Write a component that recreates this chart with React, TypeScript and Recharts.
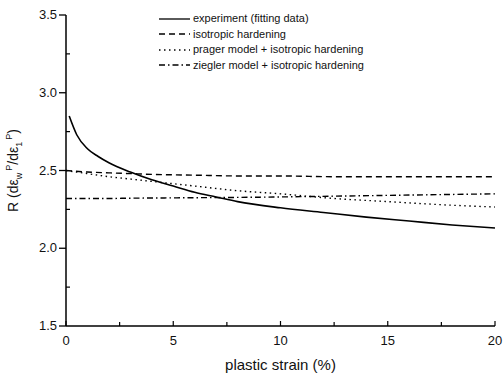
import React from 'react';
import { LineChart, Line, XAxis, YAxis } from 'recharts';

// plastic strain (%)
const expStrain = [0.15, 0.5, 1, 1.5, 2, 3, 4, 5, 6, 7, 8, 10, 12, 14, 16, 18, 20];
const expR = [2.85, 2.73, 2.64, 2.59, 2.55, 2.49, 2.44, 2.40, 2.36, 2.33, 2.30, 2.26, 2.23, 2.20, 2.175, 2.15, 2.13];

const modelStrain = [0, 1, 2, 3, 4, 6, 8, 10, 12.5, 15, 17.5, 20];
const isoR = [2.50, 2.49, 2.485, 2.48, 2.475, 2.47, 2.465, 2.465, 2.46, 2.46, 2.46, 2.46];
const pragerR = [2.50, 2.48, 2.46, 2.445, 2.43, 2.40, 2.37, 2.35, 2.32, 2.30, 2.28, 2.265];
const zieglerR = [2.32, 2.32, 2.32, 2.322, 2.323, 2.325, 2.327, 2.33, 2.335, 2.34, 2.345, 2.35];

const xTicks = [0, 2.5, 5, 7.5, 10, 12.5, 15, 17.5, 20];
const yTicks = [1.5, 1.75, 2.0, 2.25, 2.5, 2.75, 3.0, 3.25, 3.5];

const legendItems = [
  { label: 'experiment (fitting data)', dash: undefined },
  { label: 'isotropic hardening', dash: '6 4' },
  { label: 'prager model + isotropic hardening', dash: '1.5 3.5' },
  { label: 'ziegler model + isotropic hardening', dash: '6 3 1.5 3' },
];

const expData = expStrain.map((x, i) => ({ x, r: expR[i] }));
const modelData = modelStrain.map((x, i) => ({ x, iso: isoR[i], prager: pragerR[i], ziegler: zieglerR[i] }));

const font = 'Arial, "Liberation Sans", Helvetica, sans-serif';

const YTick = (props: any) => {
  const { x, y, payload } = props;
  const major = Math.abs(payload.value * 2 - Math.round(payload.value * 2)) < 1e-6;
  return (
    <g>
      {major ? (
        <>
          <line x1={x + 2} x2={x + 9} y1={y} y2={y} stroke="#000" strokeWidth={1.3} />
          <text x={x} y={y} dy={4} textAnchor="end" fontSize={13} fontFamily={font} fill="#111">
            {payload.value.toFixed(1)}
          </text>
        </>
      ) : (
        <line x1={x + 9} x2={x + 13} y1={y} y2={y} stroke="#000" strokeWidth={1.2} />
      )}
    </g>
  );
};

const XTick = (props: any) => {
  const { x, y, payload } = props;
  const major = payload.value % 5 === 0;
  return (
    <g>
      <line x1={x} x2={x} y1={y - 9} y2={y - (major ? 14 : 13)} stroke="#000" strokeWidth={1.2} />
      {major && (
        <text x={x} y={y} dy={10} textAnchor="middle" fontSize={13} fontFamily={font} fill="#111">
          {payload.value}
        </text>
      )}
    </g>
  );
};

const YLabel = (props: any) => {
  const vb = props.viewBox;
  const cx = 18;
  const cy = vb.y + vb.height / 2;
  return (
    <text
      x={cx}
      y={cy}
      transform={`rotate(-90 ${cx} ${cy})`}
      textAnchor="middle"
      fontSize={14}
      fontFamily={font}
      fill="#111"
    >
      R (dε
      <tspan fontSize={9} dy={4}>w</tspan>
      <tspan fontSize={9} dy={-10} dx={2}>P</tspan>
      <tspan dy={6}>/dε</tspan>
      <tspan fontSize={9} dy={4}>1</tspan>
      <tspan fontSize={9} dy={-10} dx={2}>P</tspan>
      <tspan dy={6}>)</tspan>
    </text>
  );
};

const ChartLegend = () => (
  <div
    style={{
      position: 'absolute',
      top: 11,
      left: 159,
      fontFamily: font,
      fontSize: 11,
      color: '#111',
      lineHeight: '15.5px',
    }}
  >
    {legendItems.map((it) => (
      <div key={it.label} style={{ display: 'flex', alignItems: 'center' }}>
        <svg width={32} height={10} style={{ marginRight: 2 }}>
          <line x1={0} x2={31} y1={5} y2={5} stroke="#000" strokeWidth={1.3} strokeDasharray={it.dash} />
        </svg>
        <span>{it.label}</span>
      </div>
    ))}
  </div>
);

export default function App() {
  return (
    <div style={{ position: 'absolute', left: 0, top: 0, width: 503, height: 375, background: '#fff' }}>
      <LineChart width={503} height={375} margin={{ top: 15, right: 8, bottom: 19, left: 6 }}>
        <XAxis
          dataKey="x"
          type="number"
          domain={[0, 20]}
          ticks={xTicks}
          interval={0}
          allowDuplicatedCategory={false}
          stroke="#000"
          strokeWidth={1.5}
          tickLine={false}
          tickSize={7}
          tickMargin={2}
          tick={<XTick />}
          height={30}
          label={{
            value: 'plastic strain (%)',
            position: 'insideBottom',
            offset: -14,
            fontSize: 15,
            fontFamily: font,
            fill: '#111',
          }}
        />
        <YAxis
          type="number"
          domain={[1.5, 3.5]}
          ticks={yTicks}
          interval={0}
          stroke="#000"
          strokeWidth={1.5}
          tickLine={false}
          tickSize={7}
          tickMargin={2}
          tick={<YTick />}
          width={60}
          label={<YLabel />}
        />
        <Line data={expData} dataKey="r" type="monotone" stroke="#000" strokeWidth={1.6} dot={false} isAnimationActive={false} />
        <Line data={modelData} dataKey="iso" type="monotone" stroke="#000" strokeWidth={1.4} strokeDasharray="6 4" dot={false} isAnimationActive={false} />
        <Line data={modelData} dataKey="prager" type="monotone" stroke="#000" strokeWidth={1.4} strokeDasharray="1.5 3.5" dot={false} isAnimationActive={false} />
        <Line data={modelData} dataKey="ziegler" type="monotone" stroke="#000" strokeWidth={1.4} strokeDasharray="6 3 1.5 3" dot={false} isAnimationActive={false} />
      </LineChart>
      <ChartLegend />
    </div>
  );
}
